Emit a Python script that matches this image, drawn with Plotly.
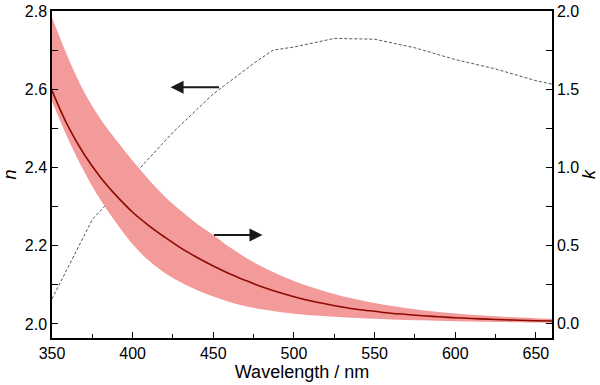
import plotly.graph_objects as go

# --- DATA ---
# refractive index n (left axis), dashed curve
n_wavelength = [350, 375, 400, 425, 450, 475, 487, 500, 525, 550, 575, 600, 625, 650, 660]
n_values = [2.064, 2.267, 2.378, 2.490, 2.588, 2.666, 2.700, 2.708, 2.730, 2.728, 2.706, 2.676, 2.652, 2.622, 2.613]

# extinction coefficient k (right axis), line + uncertainty band
k_wavelength = [350, 360, 370, 380, 390, 400, 410, 420, 430, 440, 450, 460, 470, 480, 490, 500,
                510, 520, 530, 540, 550, 560, 570, 580, 590, 600, 610, 620, 630, 640, 650, 660]
k_values = [1.49, 1.26, 1.08, 0.935, 0.815, 0.71, 0.625, 0.55, 0.48, 0.42, 0.365, 0.316, 0.273, 0.233, 0.199, 0.169,
            0.143, 0.122, 0.103, 0.087, 0.075, 0.063, 0.055, 0.047, 0.040, 0.034, 0.029, 0.025, 0.021, 0.018, 0.015, 0.013]
k_upper = [1.96, 1.70, 1.48, 1.31, 1.17, 1.04, 0.92, 0.81, 0.72, 0.635, 0.565, 0.487, 0.420, 0.362, 0.312, 0.269,
           0.232, 0.200, 0.172, 0.149, 0.128, 0.110, 0.095, 0.082, 0.071, 0.061, 0.053, 0.046, 0.040, 0.035, 0.031, 0.028]
k_lower = [1.42, 1.18, 0.97, 0.79, 0.64, 0.505, 0.40, 0.32, 0.26, 0.21, 0.17, 0.135, 0.108, 0.088, 0.072, 0.060,
           0.050, 0.043, 0.037, 0.032, 0.027, 0.023, 0.020, 0.017, 0.014, 0.012, 0.010, 0.008, 0.006, 0.005, 0.003, 0.002]

# --- THEME ---
FONT = "Arial, Liberation Sans, sans-serif"
BAND_COLOR = "#f39a9a"
LINE_COLOR = "#8c0a00"
DASH_COLOR = "#555555"

fig = go.Figure()

# band k
fig.add_trace(go.Scatter(x=k_wavelength, y=k_lower, yaxis="y2", mode="lines",
                         line=dict(width=0, color=BAND_COLOR, shape="spline"),
                         showlegend=False, hoverinfo="skip"))
fig.add_trace(go.Scatter(x=k_wavelength, y=k_upper, yaxis="y2", mode="lines", fill="tonexty",
                         fillcolor=BAND_COLOR, line=dict(width=0, color=BAND_COLOR, shape="spline"),
                         showlegend=False, hoverinfo="skip"))
fig.add_trace(go.Scatter(x=k_wavelength, y=k_values, yaxis="y2", mode="lines",
                         line=dict(color=LINE_COLOR, width=1.6, shape="spline"), showlegend=False, name="k"))

# n dashed
fig.add_trace(go.Scatter(x=n_wavelength, y=n_values, mode="lines",
                         line=dict(color=DASH_COLOR, width=1, dash="3px,2px"), showlegend=False, name="n"))

# arrows
fig.add_annotation(x=423.5, y=2.605, ax=454.5, ay=2.605, xref="x", yref="y", axref="x", ayref="y",
                   text="", showarrow=True, arrowhead=2, arrowsize=1.3, arrowwidth=2, arrowcolor="#1a1a1a")
fig.add_annotation(x=480.5, y=0.564, ax=449.5, ay=0.564, xref="x", yref="y2", axref="x", ayref="y2",
                   text="", showarrow=True, arrowhead=2, arrowsize=1.3, arrowwidth=2, arrowcolor="#1a1a1a")

axis_common = dict(
    showline=True, linecolor="black", linewidth=1.5,
    ticks="inside", ticklen=6, tickwidth=1.2, tickcolor="black",
    showgrid=False, zeroline=False, automargin=False,
    tickfont=dict(family=FONT, size=16, color="black"),
)

fig.update_layout(
    width=600, height=385,
    paper_bgcolor="white", plot_bgcolor="white",
    margin=dict(l=52, r=48, t=11, b=47),
    font=dict(family=FONT, color="black"),
    xaxis=dict(
        range=[350, 660], dtick=50, tick0=350, mirror=True,
        minor=dict(dtick=25, ticks="inside", ticklen=4, tickcolor="black"),
        title=dict(text="Wavelength / nm", font=dict(family=FONT, size=18), standoff=0),
        **axis_common,
    ),
    yaxis=dict(
        range=[1.964, 2.8001], dtick=0.2, tick0=2.0, tickformat=".1f",
        minor=dict(dtick=0.1, ticks="inside", ticklen=6, tickcolor="black"),
        title=dict(text="<i>n</i>", font=dict(family=FONT, size=18), standoff=4),
        **axis_common,
    ),
    yaxis2=dict(
        overlaying="y", side="right",
        range=[-0.096, 2.0001], dtick=0.5, tick0=0, tickformat=".1f",
        minor=dict(dtick=0.25, ticks="inside", ticklen=6, tickcolor="black"),
        title=dict(text="<i>k</i>", font=dict(family=FONT, size=18), standoff=4),
        **axis_common,
    ),
)

# page body has an 8px default margin; drop it so the figure sits at the window origin
fig.write_html("out.html", config={"displayModeBar": False},
               post_script="document.body.style.margin='0';")
